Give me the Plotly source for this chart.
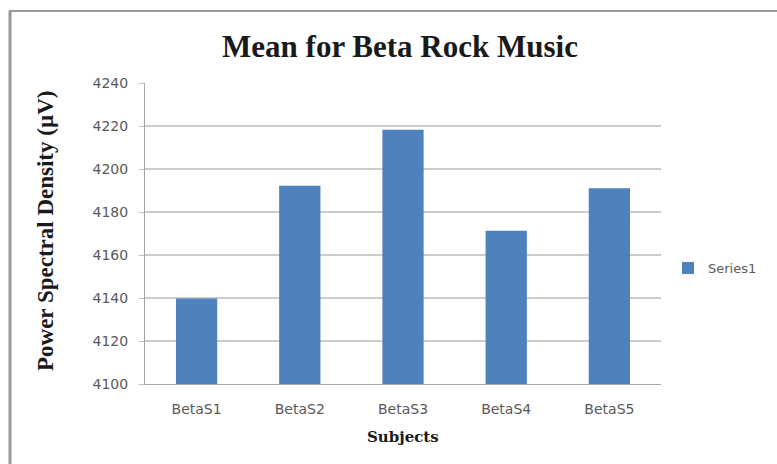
import plotly.graph_objects as go

# Mean beta-band power spectral density per subject (rock music)
subjects = ["BetaS1", "BetaS2", "BetaS3", "BetaS4", "BetaS5"]
mean_psd = [4139.8, 4192.2, 4218.3, 4171.3, 4191.0]
y_ticks = [4100, 4120, 4140, 4160, 4180, 4200, 4220, 4240]

W, H = 777, 464
L, R, T, B = 145, 116, 83, 80
pw, ph = W - L - R, H - T - B


def px(x):
    return (x - L) / pw


def py(y):
    return (H - B - y) / ph


fig = go.Figure()
fig.add_trace(go.Bar(
    x=subjects, y=mean_psd, name="Series1",
    marker=dict(color="#4F81BD", line=dict(width=0)),
))

fig.update_layout(
    width=W, height=H,
    margin=dict(l=L, r=R, t=T, b=B, autoexpand=False),
    paper_bgcolor="white", plot_bgcolor="white",
    bargap=0.6,
    showlegend=True,
    legend=dict(
        x=px(668), y=py(268), xanchor="left", yanchor="middle",
        font=dict(family="DejaVu Sans", size=13, color="#595959"),
        itemwidth=30, bgcolor="rgba(0,0,0,0)",
    ),
    title=dict(
        text="<b>Mean for Beta Rock Music</b>",
        font=dict(family="Liberation Serif", size=31, color="#1a1a1a"),
        x=px(400), xanchor="center", xref="paper",
        y=1 - 46 / H, yanchor="middle",
    ),
    xaxis=dict(
        showgrid=False, showline=True, linecolor="#A6A6A6", linewidth=1,
        ticks="", tickfont=dict(family="DejaVu Sans", size=14, color="#595959"),
        ticklabelstandoff=12,
    ),
    yaxis=dict(
        range=[4100, 4240], tickvals=y_ticks,
        showgrid=True, gridcolor="#CCCCCC", gridwidth=1.5,
        showline=True, linecolor="#A6A6A6", linewidth=1,
        ticks="outside", ticklen=5, tickcolor="#BFBFBF",
        tickfont=dict(family="DejaVu Sans", size=14, color="#595959"),
        ticklabelstandoff=8,
        zeroline=False,
    ),
    annotations=[
        dict(text="<b>Power Spectral Density (µV)</b>", textangle=-90,
             x=px(45), y=py(231), xref="paper", yref="paper",
             xanchor="center", yanchor="middle", showarrow=False,
             font=dict(family="Liberation Serif", size=23, color="#1a1a1a")),
        dict(text="<b>Subjects</b>",
             x=px(403), y=py(437), xref="paper", yref="paper",
             xanchor="center", yanchor="middle", showarrow=False,
             font=dict(family="DejaVu Serif", size=15, color="#1a1a1a")),
    ],
    shapes=[
        dict(type="line", xref="paper", yref="paper",
             x0=px(10), x1=px(10), y0=py(11), y1=py(H + 5),
             line=dict(color="#999999", width=3)),
        dict(type="line", xref="paper", yref="paper",
             x0=px(9), x1=px(W + 5), y0=py(11), y1=py(11),
             line=dict(color="#999999", width=2)),
    ],
)

fig.write_html("out.html")
